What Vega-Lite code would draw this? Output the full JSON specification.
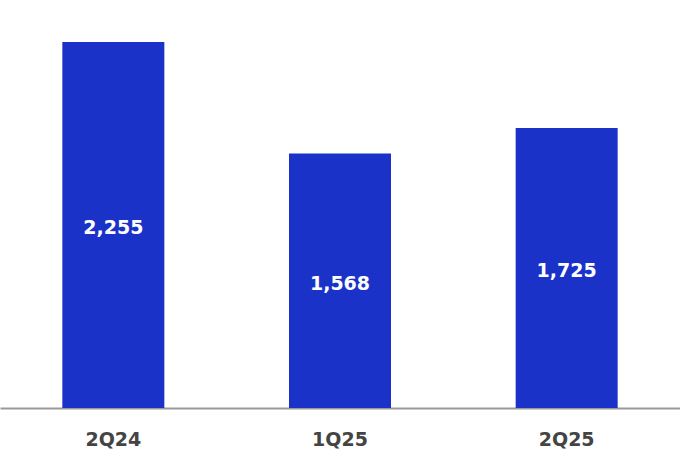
{
  "$schema": "https://vega.github.io/schema/vega-lite/v6.json",
  "width": 680,
  "height": 408,
  "padding": {"top": 0, "left": 0, "right": 0, "bottom": 44},
  "autosize": {"type": "none"},
  "background": "white",
  "data": {
    "values": [
      {"quarter": "2Q24", "value": 2255},
      {"quarter": "1Q25", "value": 1568},
      {"quarter": "2Q25", "value": 1725}
    ]
  },
  "encoding": {
    "x": {
      "field": "quarter",
      "type": "nominal",
      "sort": null,
      "title": null,
      "scale": {"paddingInner": 0.55, "paddingOuter": 0.275},
      "axis": {
        "domainColor": "#999999",
        "domainWidth": 2,
        "ticks": false,
        "labelAngle": 0,
        "labelFont": "DejaVu Sans",
        "labelFontWeight": "bold",
        "labelFontSize": 19,
        "labelColor": "#444444",
        "labelPadding": 22
      }
    }
  },
  "layer": [
    {
      "mark": {"type": "bar", "color": "#1a32c8"},
      "encoding": {
        "y": {
          "field": "value",
          "type": "quantitative",
          "scale": {"domain": [0, 2514], "nice": false},
          "axis": null
        }
      }
    },
    {
      "transform": [{"calculate": "datum.value / 2", "as": "mid"}],
      "mark": {
        "type": "text",
        "color": "white",
        "font": "DejaVu Sans",
        "fontWeight": "bold",
        "fontSize": 19,
        "baseline": "middle",
        "dy": 3
      },
      "encoding": {
        "y": {"field": "mid", "type": "quantitative", "scale": {"domain": [0, 2514], "nice": false}},
        "text": {"field": "value", "type": "quantitative", "format": ","}
      }
    }
  ],
  "config": {"view": {"stroke": null}}
}
